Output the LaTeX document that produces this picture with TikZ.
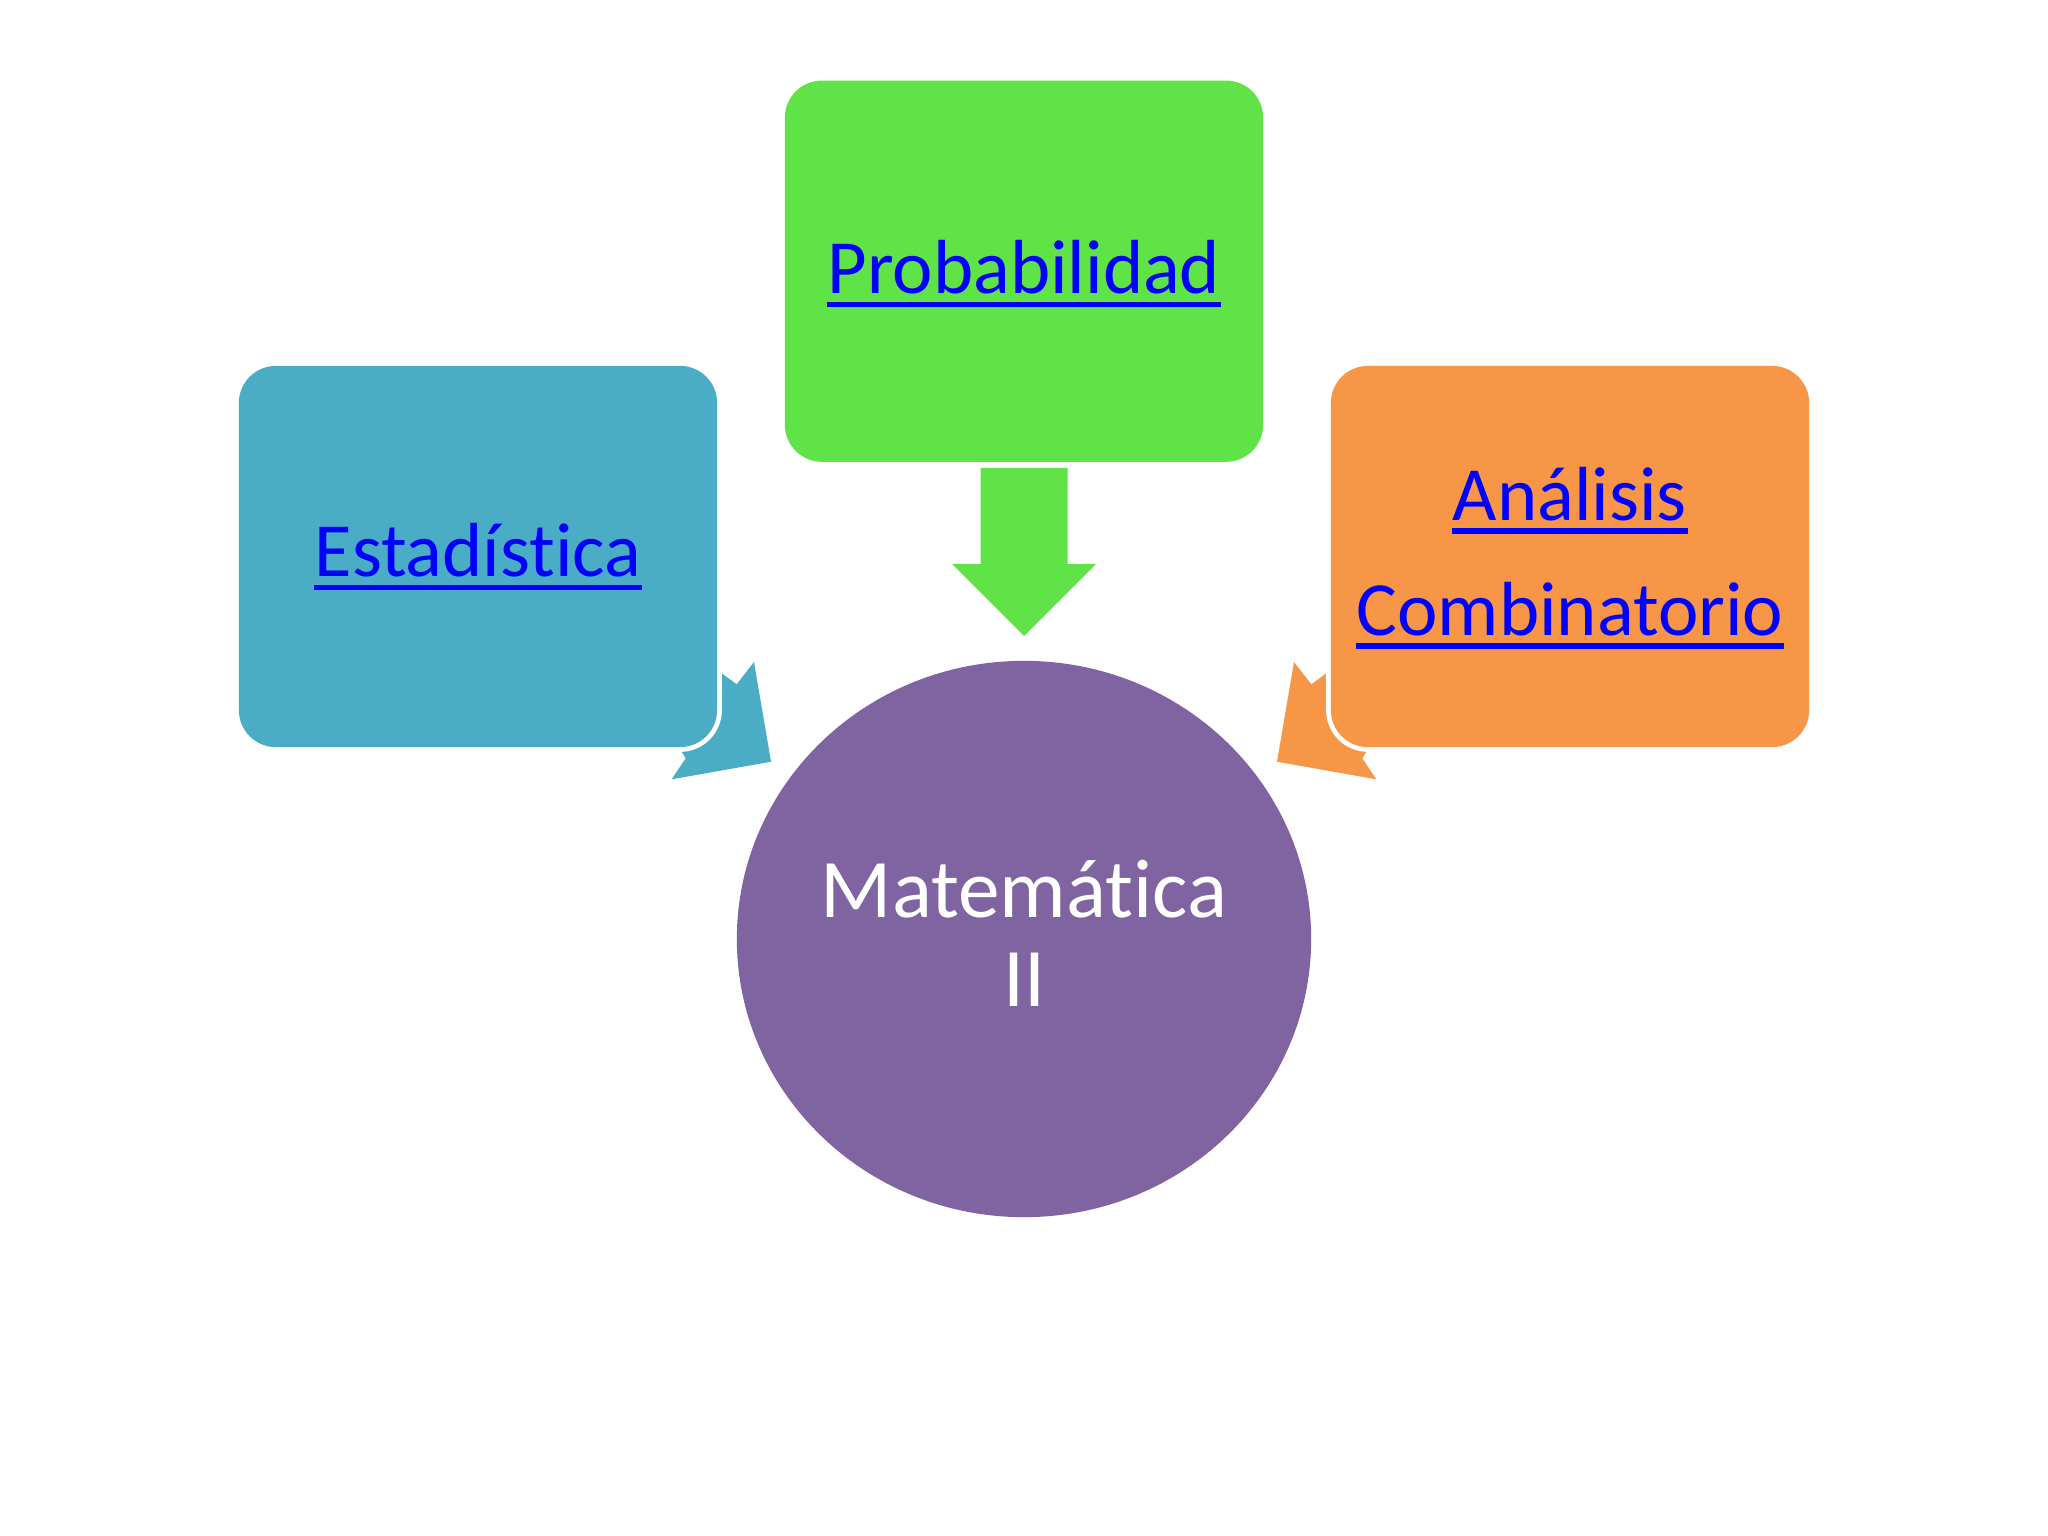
\documentclass[tikz,border=0pt]{standalone}
\usepackage{fontspec}
\setmainfont{Carlito}[Ligatures={NoCommon}]
\usetikzlibrary{shapes.geometric}
\definecolor{cgreen}{RGB}{96,227,70}
\definecolor{cblue}{RGB}{75,172,198}
\definecolor{corange}{RGB}{247,150,70}
\definecolor{cpurple}{RGB}{128,100,162}
\definecolor{clink}{RGB}{0,0,255}
\newcommand\linktext[1]{\setbox0\hbox{#1}\rlap{\kern-0.3pt\rule[-3.85pt]{\dimexpr\wd0+0.6pt\relax}{1.45pt}}\box0}
\tikzset{
  catbox/.style={rectangle, rounded corners=0.37cm, minimum width=4.78cm, minimum height=3.81cm, inner sep=0pt, outer sep=0pt, preaction={draw=white, line width=0.095cm}},
  linklabel/.style={anchor=base, inner sep=0pt, text=clink, font=\fontsize{21.8pt}{26pt}\selectfont},
  hublabel/.style={anchor=base, inner sep=0pt, text=white, font=\fontsize{23.7pt}{28pt}\selectfont},
}
\begin{document}
\begin{tikzpicture}[x=0.01cm, y=-0.01cm]
\useasboundingbox[fill=white] (0,0) rectangle (2048,1536);
% curved arrow pieces (partly hidden under boxes)
\fill[cblue] (712,640) -- (712,666.2) -- (736.7,684.3) -- (754,662) -- (771,761.7) -- (671.7,779.3) -- (685.7,758.3) -- (679.7,748.3) -- (650,700) -- cycle;
\fill[corange] (1336,640) -- (1336,666.2) -- (1311.3,684.3) -- (1294,662) -- (1277,761.7) -- (1376.3,779.3) -- (1362.3,758.3) -- (1368.3,748.3) -- (1398,700) -- cycle;
% boxes
\node[catbox, fill=cgreen] (prob) at (1024,271.2) {};
\node[catbox, fill=cblue] (est) at (478,556.5) {};
\node[catbox, fill=corange] (anal) at (1570,556.5) {};
\node[ellipse, fill=cpurple, minimum width=5.74cm, minimum height=5.56cm, inner sep=0pt] (mat) at (1024,939) {};
% green straight arrow
\fill[cgreen] (980.5,468) -- (1067.5,468) -- (1067.5,564) -- (1096,564) -- (1024,636) -- (952,564) -- (980.5,564) -- cycle;
% labels
\node[linklabel] (tprob) at (1024,293.3) {\linktext{Probabilidad}};
\node[linklabel] (test) at (478,576.7) {\linktext{Estadística}};
\node[linklabel] (tanal1) at (1570,520) {\linktext{Análisis}};
\node[linklabel] (tanal2) at (1570,635) {\linktext{Combinatorio}};
\node[hublabel] (tmat1) at (1024,917.3) {Matemática};
\node[hublabel] (tmat2) at (1024,1006.7) {II};
\end{tikzpicture}
\end{document}
